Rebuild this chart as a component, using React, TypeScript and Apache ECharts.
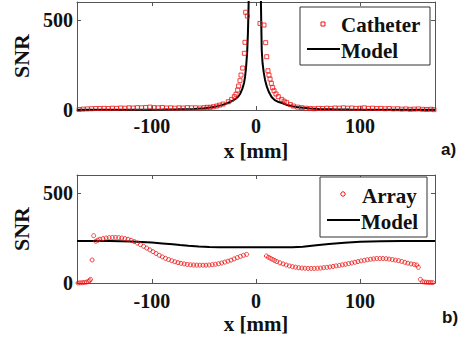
import React, { useEffect, useRef } from "react";
import * as echarts from "echarts";

// ---- Panel a) data ----
const catheterX = [
  -170, -166, -162, -158, -154, -150, -146, -142, -138, -134, -130, -126, -122, -118, -114, -110,
  -106, -102, -98, -94, -90, -86, -82, -78, -74, -70, -66, -62, -58, -54, -50, -47, -44, -41,
  -37.8, -35, -31.7, -26.6, -23.4, -20.8, -19.2, -17.6, -16.7, -15.4, -14.4, -12.8, -11.2, -10.6,
  -9.9, -8.3,
  3.8, 7.7, 9.3, 10.3, 11.5, 12.5, 13.5, 14.7, 16, 17.3, 19.2, 21.4, 24.7, 27, 29.5, 33, 35.9, 40,
  43.9, 48, 52, 56, 60, 64, 68, 72, 76, 80, 84, 88, 92, 96, 100, 104, 108, 112, 116, 120, 124, 128,
  132, 136, 140, 144, 148, 152, 156, 160, 164, 168, 171,
];
const catheterY = [
  3, 5, 6, 7, 8, 8, 9, 8, 10, 9, 11, 10, 12, 11, 13, 12,
  14, 16, 13, 12, 14, 11, 12, 10, 12, 11, 13, 12, 12, 11, 13, 15, 15, 18,
  22, 27, 33, 46, 59, 74, 87, 111, 133, 163, 194, 233, 315, 376,
  543, 522,
  481, 472, 374, 296, 218, 194, 172, 148, 124, 107, 89, 74, 59, 49, 41, 30, 22, 16,
  13, 10, 8, 7, 9, 8, 10, 9, 11, 10, 12, 10, 11, 9, 10, 12, 9, 10, 8, 9, 7, 8,
  6, 7, 5, 6, 4, 5, 6, 4, 3, 4, 2,
];
const modelAX = [
  -172, -150, -130, -110, -90, -75, -60, -50, -44, -38, -33, -27, -23, -20, -17, -15, -13, -11.5,
  -10.5, -9.5, -8.5, -7.8, -7.3, -6.9,
  4.6, 5, 5.5, 6.3, 7.4, 8.7, 10.5, 12.5, 15, 18, 21, 25, 30, 35, 39, 45, 52, 60, 75, 90, 110, 130,
  150, 172,
];
const modelAY = [
  1, 1, 1.5, 2, 3, 4, 6, 10, 14, 20, 27, 39, 50, 60, 75, 92, 120, 150,
  185, 240, 320, 420, 530, 650,
  650, 500, 333, 260, 210, 167, 128, 98, 72, 55, 46, 39, 28, 21, 17, 12, 8, 6, 4, 3, 2, 1.5,
  1, 1,
];

// ---- Panel b) data ----
const arrayX = [
  -171, -169, -167, -165, -163, -161, -160, -159, -157.5, -156,
  -154, -152, -150, -147, -144, -141, -138, -135, -132, -129, -126, -123, -120, -117, -114, -111,
  -108, -105, -102, -99, -96, -93, -90, -87, -84, -81, -78, -75, -72, -69, -66, -63, -60, -57, -54,
  -51, -48, -45, -42, -39, -36, -33, -30, -27, -24, -21, -18, -15, -12, -9,
  10, 12, 14, 16, 18, 20, 23, 26, 29, 32, 35, 38, 41, 44, 47, 50, 53, 56, 59, 62, 65, 68, 71, 74,
  77, 80, 83, 86, 89, 92, 95, 98, 101, 104, 107, 110, 113, 116, 119, 122, 125, 128, 131, 134, 137,
  140, 143, 146, 149, 152, 154.5, 156, 158, 160, 162, 164, 166, 168, 170,
];
const arrayY = [
  0, 1, 2, 3, 5, 8, 13, 20, 128, 263,
  232, 238, 243, 247, 250, 252, 253, 253, 252, 250, 247, 243, 237, 230, 222, 213,
  204, 194, 184, 174, 164, 154, 145, 137, 130, 124, 118, 113, 109, 106, 103, 101, 100, 99, 99,
  99, 99, 100, 102, 104, 107, 111, 116, 121, 127, 134, 141, 148, 154, 159,
  150, 143, 137, 131, 125, 119, 112, 106, 100, 95, 91, 88, 85, 83, 82, 81, 81, 81, 82, 83, 85, 87,
  89, 92, 95, 98, 101, 104, 108, 111, 115, 119, 123, 126, 129, 132, 134, 136, 136, 136, 135, 133,
  130, 127, 124, 120, 115, 110, 106, 103, 100, 87, 20, 7, 5, 4, 3, 3, 2,
];
const modelBX = [
  -172, -160, -150, -140, -130, -120, -110, -100, -90, -80, -73, -65, -55, -45, -35, -20, 0, 20, 35,
  45, 58, 70, 85, 100, 120, 140, 155, 172,
];
const modelBY = [
  233, 233, 233, 233, 232, 231, 228, 225, 220, 215, 211, 207, 203, 200, 198, 198, 198, 198, 198,
  202, 210, 217, 224, 229, 232, 233, 233, 233,
];

const xTicks = [-100, 0, 100];
const yTicks = [0, 500];
const X_MIN = -172;
const X_MAX = 172;
const Y_MIN = 0;
const Y_MAX = 600;

const zip = (xs: number[], ys: number[]) => xs.map((x, i) => [x, ys[i]]);

const SERIF = "Liberation Serif";
const SANS = "Liberation Sans";
const FRAME = "#555";

function xAxes(gridIndex: number, margin: number) {
  return [
    {
      type: "value",
      gridIndex,
      min: X_MIN,
      max: X_MAX,
      position: "bottom",
      name: "x [mm]",
      nameLocation: "middle",
      nameGap: 30,
      nameTextStyle: { fontFamily: SERIF, fontWeight: "bold", fontSize: 21, color: "#111" },
      axisLine: { show: true, onZero: false, lineStyle: { color: FRAME, width: 1 } },
      axisTick: { show: true, inside: true, length: 4, customValues: xTicks, lineStyle: { color: FRAME } },
      axisLabel: {
        customValues: xTicks,
        margin,
        fontFamily: SERIF,
        fontWeight: "bold",
        fontSize: 20,
        color: "#111",
      },
      splitLine: { show: false },
    },
    {
      type: "value",
      gridIndex,
      min: X_MIN,
      max: X_MAX,
      position: "top",
      axisLine: { show: true, onZero: false, lineStyle: { color: FRAME, width: 1 } },
      axisTick: { show: true, inside: true, length: 4, customValues: xTicks, lineStyle: { color: FRAME } },
      axisLabel: { show: false },
      splitLine: { show: false },
    },
  ];
}

function yAxes(gridIndex: number) {
  return [
    {
      type: "value",
      gridIndex,
      min: Y_MIN,
      max: Y_MAX,
      position: "left",
      name: "SNR",
      nameLocation: "middle",
      nameGap: 42,
      nameTextStyle: { fontFamily: SERIF, fontWeight: "bold", fontSize: 22, color: "#111" },
      axisLine: { show: true, onZero: false, lineStyle: { color: FRAME, width: 1 } },
      axisTick: { show: true, inside: true, length: 4, customValues: yTicks, lineStyle: { color: FRAME } },
      axisLabel: {
        customValues: yTicks,
        margin: 4,
        fontFamily: SERIF,
        fontWeight: "bold",
        fontSize: 20,
        color: "#111",
      },
      splitLine: { show: false },
    },
    {
      type: "value",
      gridIndex,
      min: Y_MIN,
      max: Y_MAX,
      position: "right",
      axisLine: { show: true, onZero: false, lineStyle: { color: FRAME, width: 1 } },
      axisTick: { show: true, inside: true, length: 4, customValues: yTicks, lineStyle: { color: FRAME } },
      axisLabel: { show: false },
      splitLine: { show: false },
    },
  ];
}

function legendBox(
  x: number,
  y: number,
  w: number,
  h: number,
  markerShape: "rect" | "circle",
  markerX: number,
  markerY: number,
  label1: string,
  text1X: number,
  text1Y: number,
  lineX1: number,
  lineX2: number,
  lineY: number,
  text2X: number,
  text2Y: number
) {
  const textStyle = (t: string, tx: number, ty: number) => ({
    type: "text",
    x: tx,
    y: ty,
    style: {
      text: t,
      fontFamily: SERIF,
      fontWeight: "bold",
      fontSize: 21,
      fill: "#111",
      verticalAlign: "middle",
      align: "left",
    },
    z: 101,
  });
  const marker =
    markerShape === "rect"
      ? {
          type: "rect",
          shape: { x: markerX - 2, y: markerY - 2, width: 4, height: 4 },
          style: { fill: "none", stroke: "#ee1111", lineWidth: 1 },
          z: 101,
        }
      : {
          type: "circle",
          shape: { cx: markerX, cy: markerY, r: 2.2 },
          style: { fill: "none", stroke: "#ee1111", lineWidth: 1 },
          z: 101,
        };
  return [
    {
      type: "rect",
      shape: { x, y, width: w, height: h },
      style: { fill: "#fff", stroke: "#333", lineWidth: 1 },
      z: 100,
    },
    marker,
    textStyle(label1, text1X, text1Y),
    {
      type: "line",
      shape: { x1: lineX1, y1: lineY, x2: lineX2, y2: lineY },
      style: { stroke: "#000", lineWidth: 2 },
      z: 101,
    },
    textStyle("Model", text2X, text2Y),
  ];
}

export default function App() {
  const ref = useRef<HTMLDivElement>(null);

  useEffect(() => {
    if (!ref.current) return;
    const chart = echarts.init(ref.current, undefined, { renderer: "svg" });
    const option: any = {
      animation: false,
      backgroundColor: "#fff",
      grid: [
        { left: 77, top: 2, width: 358, height: 108 },
        { left: 77, top: 175, width: 358, height: 108 },
      ],
      xAxis: [...xAxes(0, 6), ...xAxes(1, 8)],
      yAxis: [...yAxes(0), ...yAxes(1)],
      series: [
        {
          name: "Model",
          type: "line",
          xAxisIndex: 0,
          yAxisIndex: 0,
          data: zip(modelAX, modelAY),
          showSymbol: false,
          smooth: false,
          clip: true,
          lineStyle: { color: "#000", width: 2 },
          z: 2,
        },
        {
          name: "Catheter",
          type: "scatter",
          xAxisIndex: 0,
          yAxisIndex: 0,
          data: zip(catheterX, catheterY),
          symbol: "rect",
          symbolSize: 4,
          itemStyle: { color: "rgba(0,0,0,0)", borderColor: "#ee1111", borderWidth: 1 },
          z: 3,
        },
        {
          name: "Model ",
          type: "line",
          xAxisIndex: 2,
          yAxisIndex: 2,
          data: zip(modelBX, modelBY),
          showSymbol: false,
          clip: true,
          lineStyle: { color: "#000", width: 2 },
          z: 2,
        },
        {
          name: "Array",
          type: "scatter",
          xAxisIndex: 2,
          yAxisIndex: 2,
          data: zip(arrayX, arrayY),
          symbol: "circle",
          symbolSize: 4,
          itemStyle: { color: "rgba(0,0,0,0)", borderColor: "#ee1111", borderWidth: 1 },
          z: 3,
        },
      ],
      graphic: [
        ...legendBox(300, 7, 130, 58, "rect", 323, 24, "Catheter", 341, 25, 307, 340, 49, 341, 51),
        ...legendBox(320, 177, 107, 60, "circle", 343, 194, "Array", 362, 196, 327, 360, 220, 361, 222),
        {
          type: "text",
          x: 441,
          y: 149,
          style: { text: "a)", fontFamily: SANS, fontWeight: "bold", fontSize: 17, fill: "#111", verticalAlign: "middle" },
        },
        {
          type: "text",
          x: 442,
          y: 317,
          style: { text: "b)", fontFamily: SANS, fontWeight: "bold", fontSize: 17, fill: "#111", verticalAlign: "middle" },
        },
      ],
    };
    chart.setOption(option);
    return () => chart.dispose();
  }, []);

  return <div ref={ref} style={{ width: 466, height: 339, position: "absolute", left: 0, top: 0 }} />;
}
